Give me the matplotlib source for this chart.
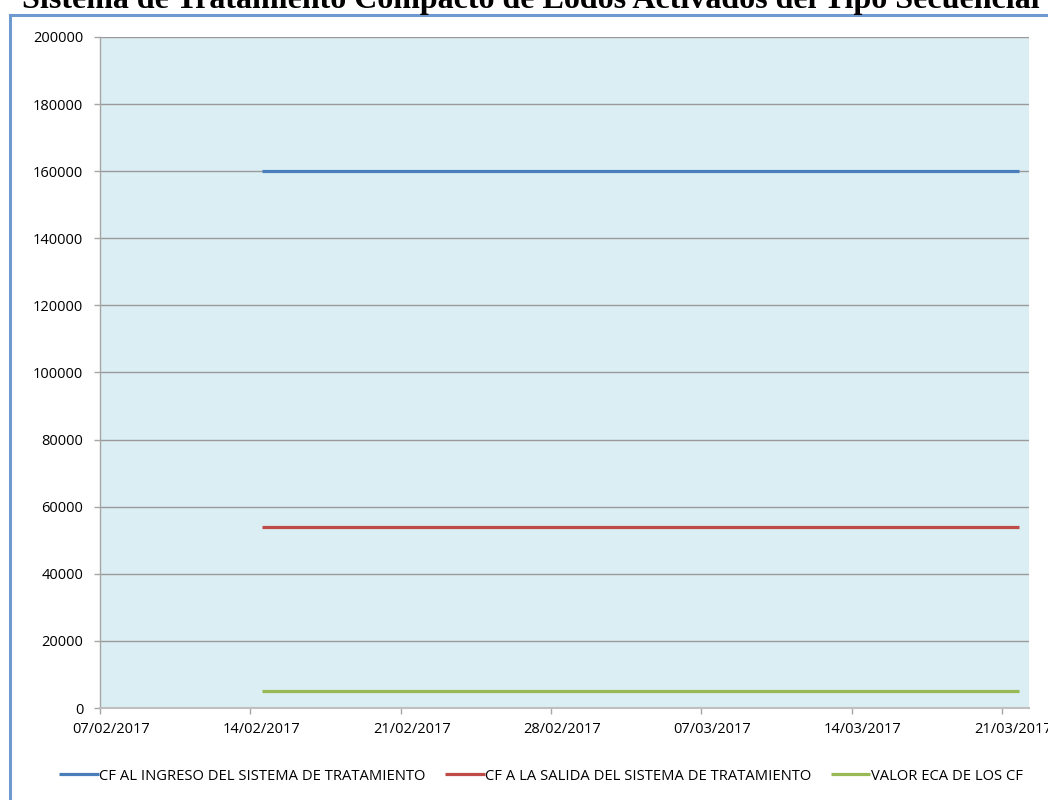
import matplotlib
matplotlib.use("Agg")
import matplotlib.pyplot as plt
import matplotlib.dates as mdates
from matplotlib.lines import Line2D
from matplotlib.transforms import ScaledTranslation
import pandas as pd

# ---- data ----
dates = pd.to_datetime(["2017-02-14 13:00", "2017-03-21 19:00"])
cf_ingreso = [160000, 160000]
cf_salida = [54000, 54000]
valor_eca = [5000, 5000]
series_labels = ["CF AL INGRESO DEL SISTEMA DE TRATAMIENTO",
                 "CF A LA SALIDA DEL SISTEMA DE TRATAMIENTO",
                 "VALOR ECA DE LOS CF"]
title = "Sistema de Tratamiento Compacto de Lodos Activados del Tipo Secuencial"
x_start = pd.Timestamp("2017-02-07")
x_end = pd.Timestamp("2017-03-22 06:15")
x_ticks = pd.date_range("2017-02-07", "2017-03-21", freq="7D")
y_ticks = list(range(0, 200001, 20000))

W, H = 1048, 800
plt.rcParams['font.family'] = ['Open Sans', 'DejaVu Sans']
fig = plt.figure(figsize=(W / 100, H / 100), dpi=100)

# chart border
bc = '#6F9AD0'
fig.add_artist(Line2D([10 / W, 1.0], [1 - 14.7 / H, 1 - 14.7 / H], color=bc, lw=2.2, transform=fig.transFigure))
fig.add_artist(Line2D([10 / W, 10 / W], [0, 1 - 14.7 / H], color=bc, lw=2.2, transform=fig.transFigure))

# title (clipped at top, as in the reference)
fig.text(531 / W, 1 - 8 / H, title, ha='center', va='baseline', fontsize=23,
         fontweight='bold', family='Liberation Serif', color='black')

ax = fig.add_axes([100 / W, 92 / H, 929 / W, 671 / H])
ax.set_facecolor('#DAEEF3')
colors = ['#4A7EBB', '#BE4B48', '#98B954']
for vals, c, lab in zip([cf_ingreso, cf_salida, valor_eca], colors, series_labels):
    ax.plot(dates, vals, color=c, lw=2.3, label=lab, solid_capstyle='butt', zorder=3)

ax.set_xlim(x_start, x_end)
ax.set_ylim(0, 200000)
ax.set_yticks(y_ticks)
ax.set_xticks(x_ticks)
ax.xaxis.set_major_formatter(mdates.DateFormatter('%d/%m/%Y'))
ax.yaxis.grid(True, color='#9A9A9A', lw=1)
ax.set_axisbelow(True)
for s in ['top', 'right']:
    ax.spines[s].set_visible(False)
ax.spines['left'].set_color('#A6A6A6')
ax.spines['bottom'].set_color('#BFBFBF')
ax.spines['left'].set_linewidth(1)
ax.spines['bottom'].set_linewidth(1.5)
ax.tick_params(axis='both', colors='#A6A6A6', labelcolor='black', labelsize=10.5, length=4, width=1)
ax.tick_params(axis='y', pad=8)
ax.tick_params(axis='x', pad=6)
off = ScaledTranslation(11 / 100, 0, fig.dpi_scale_trans)
for lbl in ax.get_xticklabels():
    lbl.set_transform(lbl.get_transform() + off)

leg = fig.legend(loc='center', bbox_to_anchor=(541 / W, 1 - 776 / H), ncol=3, frameon=False,
                 fontsize=10.6, handlelength=2.7, handletextpad=0.05, columnspacing=1.3)

fig.savefig('out.png', dpi=100)
